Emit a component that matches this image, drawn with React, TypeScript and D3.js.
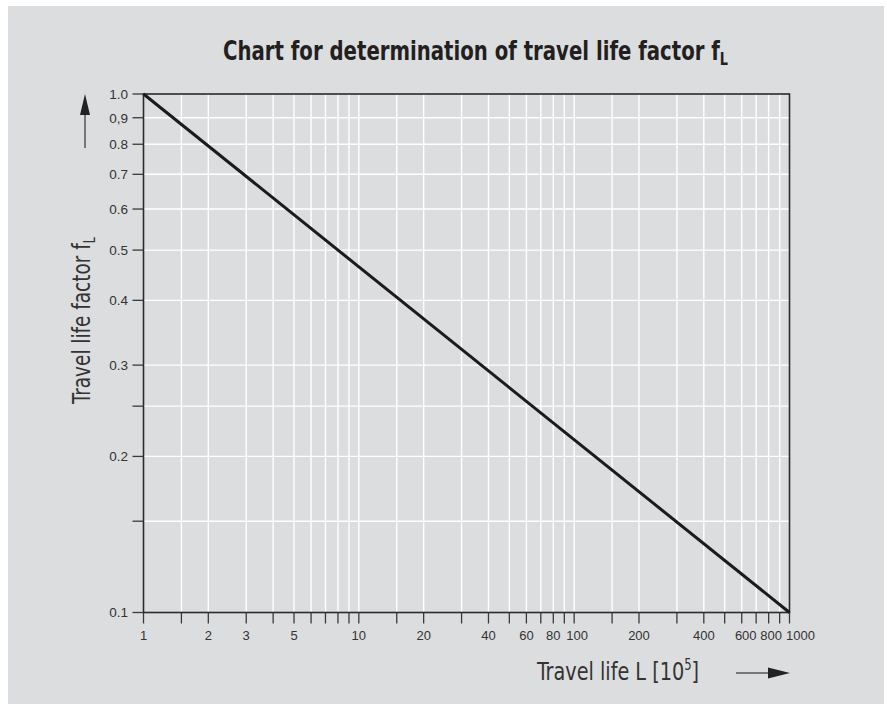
import React from "react";
import * as d3 from "d3";

const lifeValues = [1, 1000];
const factorValues = [1.0, 0.1];

const xGridValues = [1.5, 2, 3, 4, 5, 6, 7, 8, 9, 10, 15, 20, 30, 40, 50, 60, 70, 80, 90, 100, 150, 200, 300, 400, 500, 600, 700, 800, 900];
const xTickValues = [1, ...xGridValues, 1000];
const xLabelValues = [1, 2, 3, 5, 10, 20, 40, 60, 80, 100, 200, 400, 600, 800, 1000];

const yGridValues = [0.15, 0.2, 0.25, 0.3, 0.4, 0.5, 0.6, 0.7, 0.8, 0.9];
const yTickValues = [0.1, ...yGridValues, 1.0];
const yLabelValues = [0.1, 0.2, 0.3, 0.4, 0.5, 0.6, 0.7, 0.8, 0.9, 1.0];
const yLabelText: Record<string, string> = { "0.9": "0,9", "1": "1.0" };

const W = 887;
const H = 704;
const left = 143.5;
const right = 789.5;
const top = 94;
const bottom = 612.5;

// small label nudges to avoid crowding at the right end
const xLabelNudge: Record<string, number> = { "100": 3, "600": 4, "800": 2.5, "1000": 11 };

export default function App() {
  const x = d3.scaleLog().domain([1, 1000]).range([left, right]);
  const y = d3.scaleLog().domain([0.1, 1]).range([bottom, top]);
  const line = d3
    .line<number>()
    .x((_, i) => x(lifeValues[i]))
    .y((d) => y(d));
  const labelFont = "'Liberation Sans', Arial, Helvetica, sans-serif";
  const condFont = "'DejaVu Sans Condensed', 'Liberation Sans', sans-serif";
  const fmtY = (v: number) => yLabelText[String(v)] ?? d3.format(".1f")(v);

  return (
    <div style={{ position: "absolute", left: 0, top: 0 }}>
      <svg width={W} height={H} style={{ display: "block", background: "#fff" }}>
        <rect x={8} y={6} width={876} height={H - 6} fill="#dcdddf" />
        <text
          transform="translate(223,60) scale(0.843,1)"
          fontFamily={condFont}
          fontWeight="bold"
          fontSize={26}
          fill="#231f20"
        >
          Chart for determination of travel life factor f
          <tspan fontSize={17} dy={5}>L</tspan>
        </text>

        {/* gridlines */}
        {xGridValues.map((v) => (
          <line key={"xg" + v} x1={x(v)} x2={x(v)} y1={top} y2={bottom} stroke="#ffffff" strokeWidth={1.4} />
        ))}
        {yGridValues.map((v) => (
          <line key={"yg" + v} x1={left} x2={right} y1={y(v)} y2={y(v)} stroke="#ffffff" strokeWidth={1.4} />
        ))}

        {/* ticks */}
        {xTickValues.map((v) => (
          <line key={"xt" + v} x1={x(v)} x2={x(v)} y1={bottom} y2={bottom + 11} stroke="#3a3a3a" strokeWidth={1.3} />
        ))}
        {yTickValues.map((v) => (
          <line key={"yt" + v} x1={left - 11} x2={left} y1={y(v)} y2={y(v)} stroke="#3a3a3a" strokeWidth={1.3} />
        ))}

        {/* frame */}
        <rect x={left} y={top} width={right - left} height={bottom - top} fill="none" stroke="#2b2b2b" strokeWidth={1.6} />

        {/* data line */}
        <path d={line(factorValues) ?? ""} fill="none" stroke="#1c1a1b" strokeWidth={3} />

        {/* tick labels */}
        {xLabelValues.map((v) => (
          <text
            key={"xl" + v}
            x={x(v) + (xLabelNudge[String(v)] ?? 0)}
            y={640}
            textAnchor="middle"
            fontFamily={labelFont}
            fontSize={13}
            fill="#333"
          >
            {v}
          </text>
        ))}
        {yLabelValues.map((v) => (
          <text key={"yl" + v} x={128} y={y(v)} dy="0.36em" textAnchor="end" fontFamily={labelFont} fontSize={13.5} fill="#333">
            {fmtY(v)}
          </text>
        ))}

        {/* axis titles */}
        <text transform="translate(537,680) scale(0.856,1)" fontFamily={condFont} fontSize={25} fill="#333">
          Travel life L [10
          <tspan fontSize={15} dy={-10}>5</tspan>
          <tspan dy={10}>]</tspan>
        </text>
        <text
          transform="translate(90,404) rotate(-90) scale(0.82,1)"
          fontFamily={condFont}
          fontSize={25}
          fill="#333"
        >
          Travel life factor f
          <tspan fontSize={15} dy={5}>L</tspan>
        </text>

        {/* arrows */}
        <line x1={736} x2={770} y1={673} y2={673} stroke="#555" strokeWidth={1.5} />
        <path d="M768,667.5 L790,673 L768,678.5 Z" fill="#222" />
        <line x1={85} x2={85} y1={113} y2={148} stroke="#555" strokeWidth={1.5} />
        <path d="M80,115 L85,94 L90,115 Z" fill="#222" />
      </svg>
    </div>
  );
}
